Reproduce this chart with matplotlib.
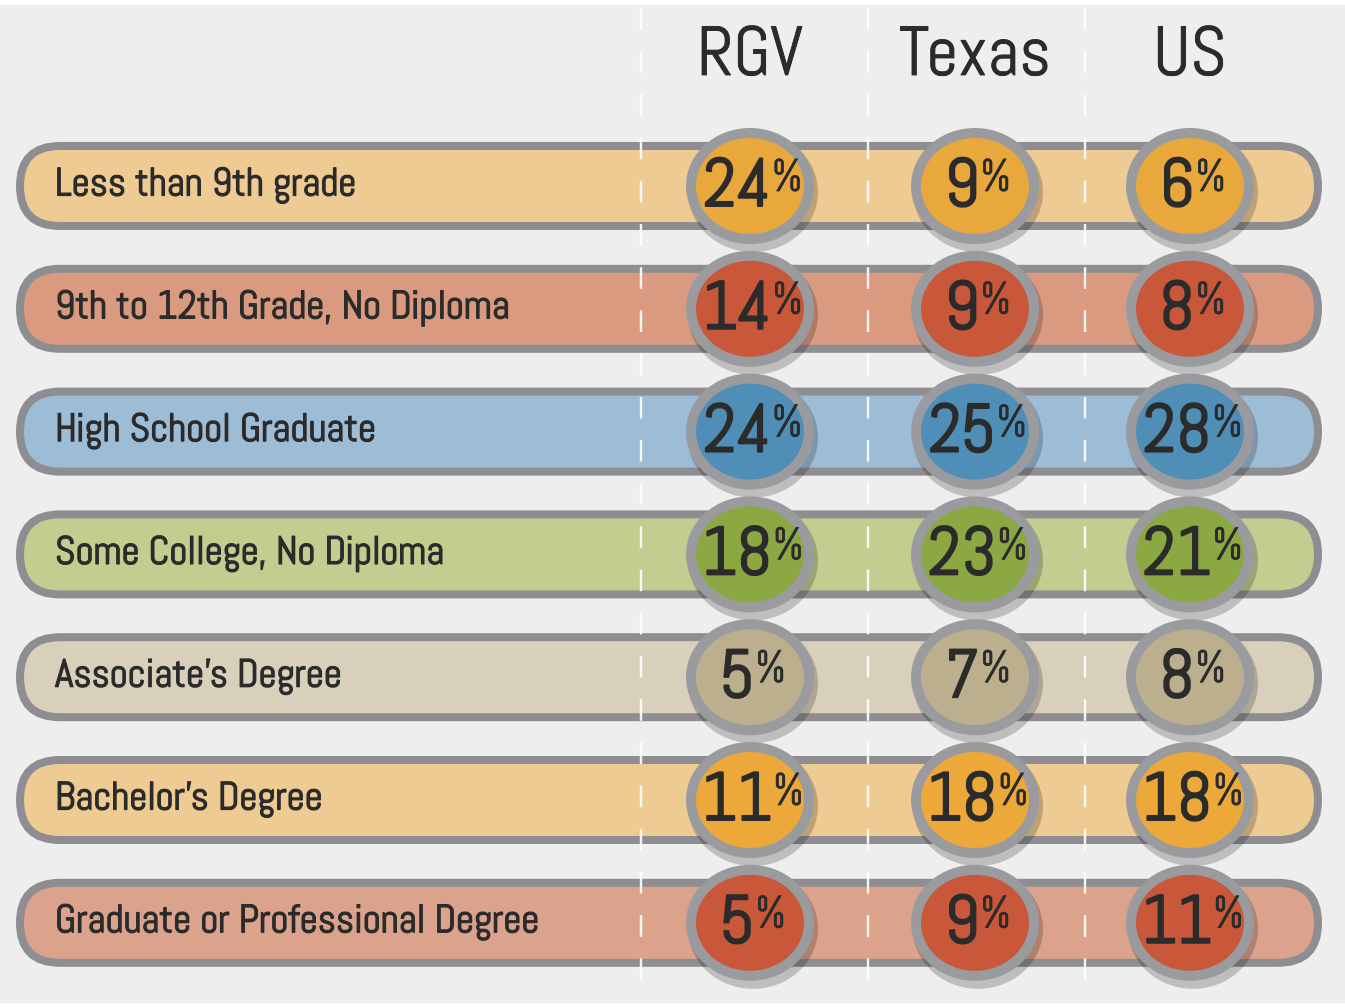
import matplotlib.pyplot as plt
from matplotlib.patches import FancyBboxPatch, Ellipse, Rectangle
import matplotlib.patheffects as pe

categories = ["Less than 9th grade", "9th to 12th Grade, No Diploma",
              "High School Graduate", "Some College, No Diploma",
              "Associate’s Degree", "Bachelor’s Degree",
              "Graduate or Professional Degree"]
regions = ["RGV", "Texas", "US"]
rgv = [24, 14, 24, 18, 5, 11, 5]
texas = [9, 9, 25, 23, 7, 18, 9]
us = [6, 8, 28, 21, 8, 18, 11]

bar_colors = ["#eecb93", "#d99a80", "#9dbcd6", "#c2cd90", "#d9d0bb", "#eecb93", "#dba38c"]
dot_colors = ["#e9a83c", "#c9573a", "#4f8fb7", "#8ca842", "#bcaf8e", "#eca93a", "#c9573a"]

FONT = ["Abel", "DejaVu Sans"]
INK = "#2b2b2b"
W, H = 1345, 1007
fig = plt.figure(figsize=(W / 100, H / 100), dpi=100)
fig.patch.set_facecolor("white")
ax = fig.add_axes([0, 0, 1, 1])
ax.set_xlim(0, W)
ax.set_ylim(H, 0)
ax.axis("off")
ax.add_patch(Rectangle((0, 5), W, H - 9, fc="#eeeeef", ec="none", zorder=0))

row_y = [186 + i * 122.8 for i in range(len(categories))]
col_x = [750, 975, 1190]
values = [rgv, texas, us]
px = 72 / 100  # points per pixel


def bold(w):
    return [pe.withStroke(linewidth=w, foreground=INK)]


# headers
for x, name in zip(col_x, regions):
    ax.text(x, 58, name, ha="center", va="center", fontsize=50,
            family=FONT, color=INK, path_effects=bold(0.6))

# dashed separators
for x in [641, 868, 1085]:
    ax.plot([x, x], [8, 1000], color="white", lw=2.4 * px, alpha=0.9,
            dashes=(9, 9), zorder=3)

for i, (cat, cy) in enumerate(zip(categories, row_y)):
    bar = FancyBboxPatch((20, cy - 40), 1298, 80,
                         boxstyle="round,pad=0,rounding_size=40",
                         fc=bar_colors[i], ec="#8e8e92", lw=8 * px, zorder=2)
    ax.add_patch(bar)
    ax.text(55, cy - 1, cat, ha="left", va="center", fontsize=28.5,
            family=FONT, color=INK, zorder=6, path_effects=bold(0.9))

    for j, x in enumerate(col_x):
        shadow = Ellipse((x + 3, cy + 6), 130, 120, fc="#000000",
                         alpha=0.2, ec="none", zorder=4)
        ax.add_patch(shadow)
        dot = Ellipse((x, cy), 118, 106, fc=dot_colors[i], ec="#9a9b9f",
                      lw=10 * px, zorder=5)
        ax.add_patch(dot)
        num = ax.text(x - 13, cy + 3, str(values[j][i]), ha="center",
                      va="center", fontsize=49, family=FONT,
                      color=INK, zorder=6, path_effects=bold(1.4))
        ax.annotate("%", xy=(1, 1.0), xycoords=num, xytext=(0.5, 0),
                    textcoords="offset points", ha="left", va="top",
                    fontsize=33, family=FONT, color=INK, zorder=6,
                    path_effects=bold(0.5))

fig.savefig("out.png", dpi=100, facecolor=fig.get_facecolor())
